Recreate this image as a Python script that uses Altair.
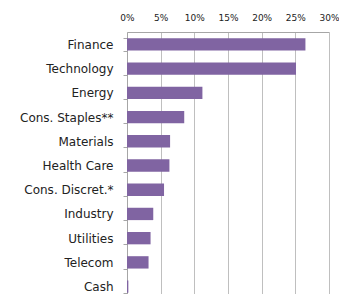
import altair as alt
import pandas as pd

sectors = ["Finance", "Technology", "Energy", "Cons. Staples**", "Materials",
           "Health Care", "Cons. Discret.*", "Industry", "Utilities", "Telecom", "Cash"]
weights = [26.5, 25.1, 11.2, 8.5, 6.4, 6.3, 5.5, 3.9, 3.5, 3.2, 0.2]

df = pd.DataFrame({"sector": sectors, "weight": weights})

chart = alt.Chart(df).mark_bar(color="#8064A2").encode(
    x=alt.X("weight:Q",
            scale=alt.Scale(domain=[0, 30], nice=False),
            axis=alt.Axis(orient="top", values=[0, 5, 10, 15, 20, 25, 30],
                          labelExpr="datum.value + '%'", title=None,
                          ticks=False, labelPadding=10, labelFont="DejaVu Sans",
                          labelFontSize=9, labelColor="#222222",
                          domainColor="#A6A6A6", gridColor="#BFBFBF",
                          grid=True, labelFlush=False)),
    y=alt.Y("sector:N", sort=sectors,
            scale=alt.Scale(paddingInner=0.49, paddingOuter=0.257, range=[0, 267]),
            axis=alt.Axis(title=None, labelFont="DejaVu Sans", labelFontSize=12,
                          labelColor="#222222", tickBand="extent", tickSize=4,
                          tickColor="#A6A6A6", domainColor="#A6A6A6",
                          labelPadding=10, grid=False)),
).properties(
    width=202, height=262,
    autosize=alt.AutoSizeParams(type="none"),
    padding={"left": 119, "top": 24, "right": 10, "bottom": 0},
).configure_view(stroke=None)

chart.save("out.html", embed_options={"renderer": "svg", "actions": False})
